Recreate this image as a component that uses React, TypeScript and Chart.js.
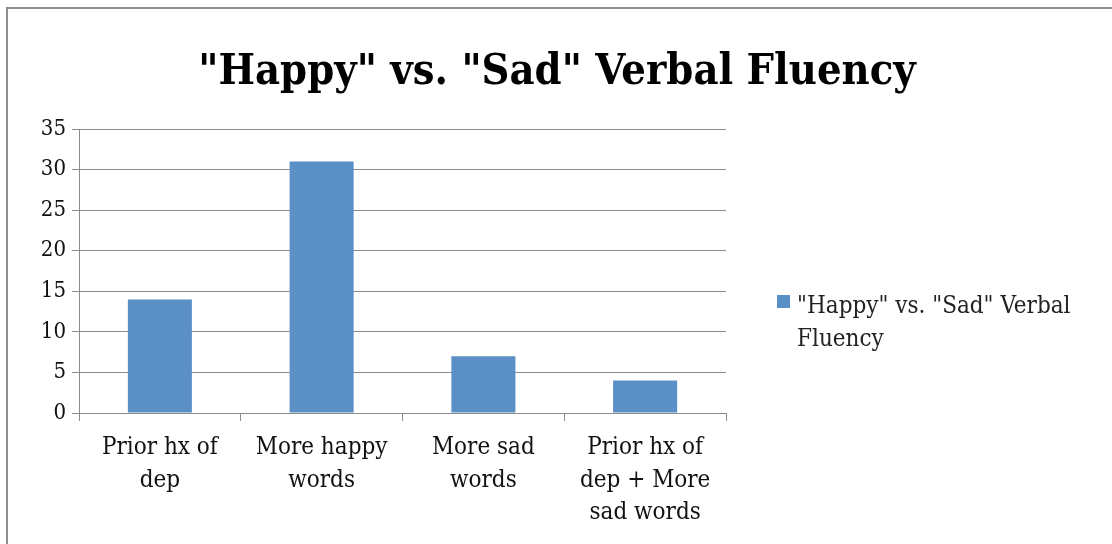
import React, { useEffect, useRef } from "react";
import { Chart, registerables } from "chart.js";

Chart.register(...registerables);

const chartTitle = '"Happy" vs. "Sad" Verbal Fluency';
const seriesLabel = '"Happy" vs. "Sad" Verbal Fluency';
const legendLines = ['"Happy" vs. "Sad" Verbal', "Fluency"];
const categories: string[][] = [
  ["Prior hx of", "dep"],
  ["More happy", "words"],
  ["More sad", "words"],
  ["Prior hx of", "dep + More", "sad words"],
];
const values = [14, 31, 7, 4];
const yMin = 0;
const yMax = 35;
const yStep = 5;

const BAR_COLOR = "rgb(91,144,199)";
const GRID_COLOR = "#8c8c8c";
const FONT = "'DejaVu Serif Condensed', 'DejaVu Serif', serif";

const decorPlugin = {
  id: "decor",
  beforeDraw(chart: any) {
    const ctx = chart.ctx;
    ctx.save();
    ctx.fillStyle = "#ffffff";
    ctx.fillRect(0, 0, chart.width, chart.height);
    ctx.fillStyle = "#8e8e8e";
    ctx.fillRect(6, 7, 2, chart.height - 7);
    ctx.fillRect(6, 7, chart.width - 6, 2);
    ctx.restore();
  },
  afterDraw(chart: any) {
    const ctx = chart.ctx;
    ctx.save();
    // title
    ctx.fillStyle = "#000";
    ctx.font = `bold 43px ${FONT}`;
    ctx.textAlign = "center";
    ctx.textBaseline = "alphabetic";
    ctx.fillText(chartTitle, 557, 84);
    // legend
    ctx.fillStyle = BAR_COLOR;
    ctx.fillRect(777, 295, 13, 13);
    ctx.fillStyle = "#222";
    ctx.font = `24px ${FONT}`;
    ctx.textAlign = "left";
    ctx.textBaseline = "middle";
    legendLines.forEach((l, i) => ctx.fillText(l, 797, 307 + i * 33));
    ctx.restore();
  },
};

export default function App() {
  const ref = useRef<HTMLCanvasElement | null>(null);
  useEffect(() => {
    if (!ref.current) return;
    const chart = new Chart(ref.current, {
      type: "bar",
      data: {
        labels: categories,
        datasets: [
          {
            label: seriesLabel,
            data: values,
            backgroundColor: BAR_COLOR,
            borderWidth: 0,
            categoryPercentage: 1,
            barPercentage: 0.396,
          },
        ],
      },
      options: {
        responsive: false,
        animation: false,
        maintainAspectRatio: false,
        layout: { padding: { left: 0, top: 129, right: 386, bottom: 0 } },
        plugins: {
          legend: { display: false },
          title: { display: false },
          tooltip: { enabled: false },
        },
        scales: {
          x: {
            offset: true,
            grid: {
              display: true,
              offset: true,
              drawOnChartArea: false,
              drawTicks: true,
              tickLength: 8,
              color: GRID_COLOR,
              lineWidth: 1,
            },
            border: { display: true, color: GRID_COLOR, width: 1 },
            ticks: {
              color: "#111",
              font: { family: FONT, size: 24, lineHeight: 1.35 },
              padding: 11,
              maxRotation: 0,
              autoSkip: false,
            },
            afterFit(scale: any) {
              scale.height = 131;
            },
          },
          y: {
            min: yMin,
            max: yMax,
            ticks: {
              stepSize: yStep,
              color: "#111",
              font: { family: FONT, size: 22 },
              padding: 6,
            },
            grid: {
              color: GRID_COLOR,
              lineWidth: 1,
              tickLength: 7,
            },
            border: { display: true, color: GRID_COLOR, width: 1 },
            afterFit(scale: any) {
              scale.width = 79;
            },
          },
        },
      },
      plugins: [decorPlugin],
    });
    return () => chart.destroy();
  }, []);
  return (
    <div style={{ position: "absolute", left: 0, top: 0, width: 1112, height: 544 }}>
      <canvas ref={ref} width={1112} height={544} style={{ display: "block" }} />
    </div>
  );
}
